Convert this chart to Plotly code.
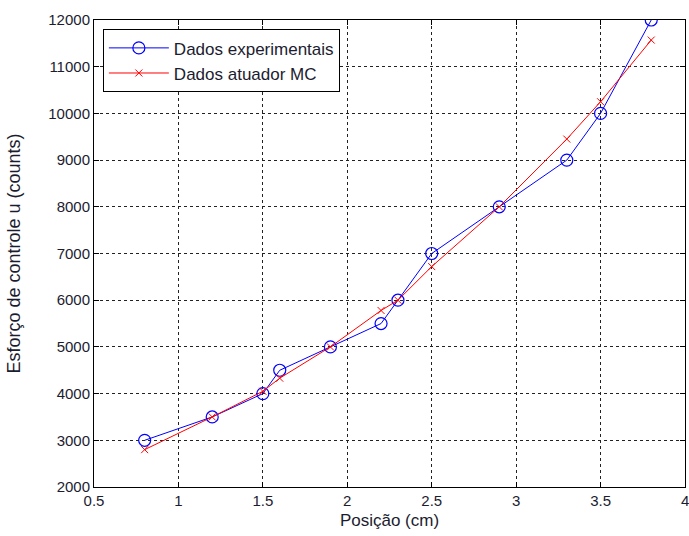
import plotly.graph_objects as go

pos = [0.8, 1.2, 1.5, 1.6, 1.9, 2.2, 2.3, 2.5, 2.9, 3.3, 3.5, 3.8]
exp_vals = [3000, 3500, 4000, 4500, 5000, 5500, 6000, 7000, 8000, 9000, 10000, 12000]
mc_vals = [2800, 3500, 4050, 4330, 5000, 5780, 6000, 6720, 8000, 9450, 10250, 11570]
x_ticks = [0.5, 1, 1.5, 2, 2.5, 3, 3.5, 4]
y_ticks = list(range(2000, 12001, 1000))

FONT = "Liberation Sans, Arial"
TXT = "#1c1c30"

fig = go.Figure()
fig.add_trace(go.Scatter(x=pos, y=exp_vals, mode="lines+markers", name="Dados experimentais",
                         line=dict(color="#0000ff", width=1),
                         marker=dict(symbol="circle-open", size=12, color="#0000ff", line=dict(width=1.2))))
fig.add_trace(go.Scatter(x=pos, y=mc_vals, mode="lines+markers", name="Dados atuador MC",
                         line=dict(color="#ff0000", width=1),
                         marker=dict(symbol="x-thin-open", size=7, color="#ff0000", line=dict(width=1, color="#ff0000"))))

axis_common = dict(showline=True, linecolor="black", linewidth=1, mirror="ticks",
                   ticks="inside", ticklen=5, tickcolor="black",
                   showgrid=True, gridcolor="#222222", griddash="3px,3px", gridwidth=1,
                   zeroline=False, tickfont=dict(family=FONT, size=15, color=TXT))

fig.update_xaxes(range=[0.5, 4], tickvals=x_ticks, ticktext=[f"{v:g}" for v in x_ticks],
                 title=dict(text="Posição (cm)", font=dict(family=FONT, size=17, color=TXT), standoff=6),
                 **axis_common)
fig.update_yaxes(range=[2000, 12000], tickvals=y_ticks, ticktext=[str(v) for v in y_ticks],
                 title=dict(text="Esforço de controle u (counts)", font=dict(family=FONT, size=18, color=TXT), standoff=22),
                 **axis_common)

# last x tick label sits on the paper edge; plotly drops it, so place it explicitly
fig.add_annotation(x=x_ticks[-1], y=0, xref="x", yref="paper", text=f"{x_ticks[-1]:g}",
                   showarrow=False, yanchor="top", xanchor="center", yshift=-3,
                   font=dict(family=FONT, size=15, color=TXT))

fig.update_layout(width=689, height=536, margin=dict(l=94, r=4, t=20, b=49),
                  plot_bgcolor="white", paper_bgcolor="white",
                  showlegend=True,
                  legend=dict(x=0.015, y=0.98, xanchor="left", yanchor="top",
                              bgcolor="white", bordercolor="black", borderwidth=1,
                              font=dict(family=FONT, size=17, color=TXT),
                              itemwidth=60, tracegroupgap=0))

fig.write_html("out.html")
